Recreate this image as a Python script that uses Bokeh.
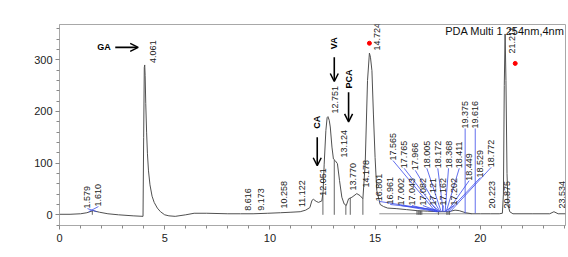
import numpy as np
from bokeh.plotting import figure
from bokeh.models import Range1d, SingleIntervalTicker, Label, Arrow, OpenHead
from bokeh.core.properties import value
from bokeh.embed import file_html
from bokeh.resources import INLINE

# ---- chromatogram trace (min, mAU) ----
trace_t = [0.0, 0.5, 1.0, 1.3, 1.6, 1.9, 2.3, 2.8, 3.5, 3.97, 4.0, 4.03, 4.05, 4.07, 4.1,
           4.14, 4.18, 4.23, 4.3, 4.4, 4.5, 4.65, 4.8, 5.0, 5.2, 5.5, 6.0, 6.4, 7.0, 8.0,
           8.6, 9.2, 9.9, 10.5, 11.0,
           11.44, 11.7, 11.9, 12.0, 12.07, 12.2, 12.31, 12.47, 12.53, 12.58, 12.66, 12.72,
           12.76, 12.82, 12.87, 12.95, 13.02, 13.1, 13.21, 13.31, 13.42, 13.53, 13.63, 13.74,
           13.9, 14.13, 14.29, 14.42, 14.53, 14.64, 14.73, 14.78, 14.85, 14.92, 15.0, 15.08,
           15.24, 15.4, 15.6, 16.0, 16.5, 17.0, 17.5, 18.0, 18.5, 18.8, 19.0, 19.3, 19.6,
           20.0, 20.5, 20.9, 21.05, 21.1, 21.14, 21.18, 21.22, 21.27, 21.32, 21.4, 21.55,
           22.5, 23.3, 23.5, 23.7, 24.05]
trace_v = [1, 1, 2, 4, 8, 5, 2, 0, -2, -3, 150, 285, 290, 270, 215,
           160, 118, 85, 58, 36, 24, 13, 6, 0, -2, -3, 0, 3, 3, 2,
           2, 2, 3, 4, 5,
           6, 9, 14, 28, 30, 26, 24, 27, 45, 98, 163, 188,
           190, 183, 170, 131, 108, 105, 99, 66, 34, 21, 18, 31,
           34, 41, 37, 31, 99, 260, 313, 305, 279, 195, 111, 47,
           20, 16, 13, 12, 10, 8, 7, 6, 6, 9, 8, 4, 2,
           2, 2, 2, 3, 40, 250, 350, 260, 80, 20, 6, 2,
           2, 2, 6, 2, 2]

# ---- peak labels: text, label centre (min) and label start (mAU) ----
peak_text = ["1.579", "1.610", "4.061", "8.616", "9.173", "10.258", "11.122", "12.051",
             "12.751", "13.124", "13.770", "14.178", "14.724", "16.801", "16.961", "17.002",
             "17.043", "17.082", "17.121", "17.162", "17.202", "17.565", "17.765", "17.966",
             "18.005", "18.172", "18.368", "18.411", "18.449", "18.529", "18.772", "19.375",
             "19.616", "20.223", "20.875", "21.211", "23.534"]
label_t = [1.33, 1.85, 4.44, 8.95, 9.57, 10.65, 11.52, 12.52,
           13.10, 13.50, 13.97, 14.56, 15.09, 15.19, 15.72, 16.24,
           16.75, 17.27, 17.73, 18.25, 18.76, 15.85, 16.38, 16.91,
           17.46, 17.98, 18.49, 19.00, 19.47, 20.00, 20.52, 19.28,
           19.76, 20.57, 21.26, 21.50, 23.88]
label_v = [12, 16, 294, 8, 8, 12, 15, 37,
           196, 111, 47, 53, 318, 26, 20, 18,
           18, 18, 18, 18, 18, 105, 90, 86,
           90, 90, 90, 90, 66, 72, 92, 167,
           167, 12, 12, 312, 12]

# ---- blue leader lines: from label start to peak point ----
lead_t0 = [1.33, 1.85, 15.19, 15.72, 16.24, 16.75, 17.27, 17.73, 18.25, 18.76,
           15.85, 16.38, 16.91, 17.46, 17.98, 18.49, 19.00, 19.47, 20.00, 20.52, 19.28, 19.76]
lead_v0 = [12, 16, 26, 20, 18, 18, 18, 18, 18, 18,
           105, 90, 86, 90, 90, 90, 90, 66, 72, 92, 167, 167]
lead_t1 = [1.77, 1.39, 17.98, 17.88, 17.93, 17.98, 18.05, 18.09, 18.19, 18.28,
           17.88, 17.98, 18.09, 18.14, 18.24, 18.33, 18.38, 18.43, 18.47, 18.57, 19.28, 19.76]
lead_v1 = [6, 6, 8, 10, 6, 6, 6, 6, 6, 6,
           6, 6, 6, 6, 6, 6, 6, 6, 6, 6, 3, 3]

# ---- drop lines (peak boundaries) ----
drop_t = [1.56, 12.52, 13.06, 13.61, 13.82, 14.42, 16.99, 17.05, 17.10, 17.16, 17.22,
          18.01, 18.41, 18.47, 18.54]

# ---- red markers ----
red_t = [14.73, 21.66]
red_v = [332, 293]

FONT = "Liberation Sans"

p = figure(width=568, height=257, x_range=Range1d(0, 24.05), y_range=Range1d(-20.7, 368.3),
           output_backend="svg", toolbar_location=None,
           min_border_left=59, min_border_right=3, min_border_top=24, min_border_bottom=32)
p.background_fill_color = "white"
p.border_fill_color = "white"
p.outline_line_color = "#a8a8a8"
p.xgrid.visible = False
p.ygrid.visible = False

for ax in (p.xaxis[0], p.yaxis[0]):
    ax.axis_line_color = "#a8a8a8"
    ax.major_tick_line_color = "#888888"
    ax.minor_tick_line_color = "#888888"
    ax.major_tick_out = 4
    ax.major_tick_in = 0
    ax.minor_tick_out = 3
    ax.minor_tick_in = 0
    ax.major_label_text_font = FONT
    ax.major_label_text_font_size = "11px"
    ax.major_label_text_color = "#222222"
p.xaxis[0].ticker = SingleIntervalTicker(interval=5, num_minor_ticks=5)
p.yaxis[0].ticker = SingleIntervalTicker(interval=100, num_minor_ticks=5)
p.xaxis[0].major_label_standoff = 4
p.yaxis[0].major_label_standoff = 3

# baseline under crowded region
p.line([15.2, 19.6], [2, 2], line_color="#777777", line_width=0.8)

# drop lines
drop_top = np.interp(drop_t, trace_t, trace_v)
p.segment(x0=drop_t, y0=[0] * len(drop_t), x1=drop_t, y1=drop_top,
          line_color="#555555", line_width=0.9)

# trace
p.line(trace_t, trace_v, line_color="#505050", line_width=1.0)

# leaders
p.segment(x0=lead_t0, y0=lead_v0, x1=lead_t1, y1=lead_v1, line_color="#3a4ae8", line_width=0.8)

# peak labels
p.text(x=label_t, y=label_v, text=peak_text, angle=np.pi / 2, text_align="left",
       text_baseline="middle", text_font=value(FONT), text_font_size="9px", text_color="#222222")

# red markers
p.scatter(red_t, red_v, size=4, color="red", line_color="red")

# compound annotations
p.text(x=[2.11], y=[324], text=["GA"], text_align="center", text_baseline="middle",
       text_font=value(FONT), text_font_size="9px", text_font_style="bold", text_color="black")
p.text(x=[12.26, 13.06, 13.74], y=[179, 332, 263], text=["CA", "VA", "PCA"], angle=np.pi / 2,
       text_align="center", text_baseline="middle", text_font=value(FONT), text_font_size="9px",
       text_font_style="bold", text_color="black")

arrows = [(2.65, 324, 3.74, 324), (12.25, 150, 12.25, 95), (13.06, 305, 13.06, 258),
          (13.74, 237, 13.74, 180)]
for xs, ys, xe, ye in arrows:
    p.add_layout(Arrow(end=OpenHead(size=8, line_width=1.5, line_color="black"),
                       x_start=xs, y_start=ys, x_end=xe, y_end=ye,
                       line_width=1.6, line_color="black"))

p.add_layout(Label(x=24.0, y=356, text="PDA Multi 1 254nm,4nm", text_align="right",
                   text_baseline="middle", text_font=FONT, text_font_size="11px",
                   text_color="#111111"))
p.add_layout(Label(x=-1.82, y=401, text="mAU", text_align="center", text_baseline="middle",
                   text_font=FONT, text_font_size="11px", text_color="#222222"))
p.add_layout(Label(x=23.56, y=-65, text="min", text_align="center", text_baseline="middle",
                   text_font=FONT, text_font_size="11px", text_color="#222222"))

open("out.html", "w").write(file_html(p, INLINE))
